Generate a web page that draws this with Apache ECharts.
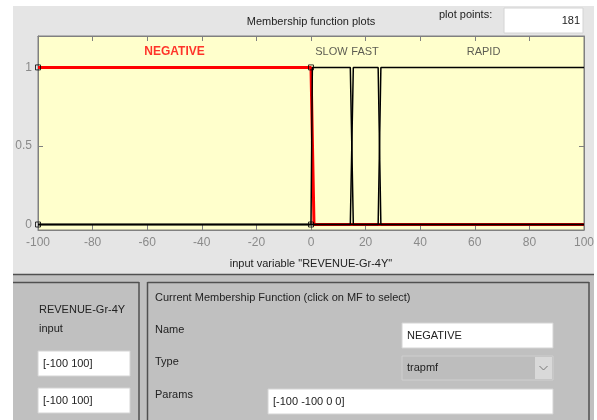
<!DOCTYPE html>
<html>
<head>
<meta charset="utf-8">
<script src="https://cdn.jsdelivr.net/npm/echarts@6/dist/echarts.min.js"></script>
<style>
  html, body { margin: 0; padding: 0; background: #fff; }
  #chart { width: 597px; height: 420px; }
</style>
</head>
<body>
<div id="chart"></div>
<script>
const mfNames = ["NEGATIVE", "SLOW", "FAST", "RAPID"];
const negativeMF = [[-100, 1], [0, 1], [1.1, 0], [100, 0]];
const slowMF = [[-100, 0], [0, 0], [0.5, 1], [14.4, 1], [15.5, 0], [100, 0]];
const fastMF = [[-100, 0], [14.4, 0], [15.5, 1], [24.6, 1], [25.6, 0], [100, 0]];
const rapidMF = [[-100, 0], [24.6, 0], [25.6, 1], [100, 1]];
// handles of the selected MF (trapmf [-100 -100 0 0])
const handlePoints = [[-100, 0], [-100, 1], [0, 1], [0, 0]];
// where the MF names sit
const labelX = [-50, 7.5, 19.8, 63.2];
const labelY = 1.1;
const yTickValues = [0, 0.5, 1];
const inputRange = "[-100 100]";
const displayRange = "[-100 100]";
const mfParams = "[-100 -100 0 0]";
const plotPoints = "181";

const FONT = "Liberation Sans, Arial, sans-serif";
const tickGrey = "#8a8a8a";
const axisGrey = "#808080";

function txt(text, x, y, opts) {
  opts = opts || {};
  return {
    type: "text",
    silent: true,
    z: opts.z || 5,
    style: {
      text: text,
      x: x,
      y: y,
      fill: opts.color || "#222",
      font: (opts.weight || "normal") + " " + (opts.size || 11) + "px " + FONT,
      align: opts.align || "left",
      textAlign: opts.align || "left",
      verticalAlign: "middle",
      textVerticalAlign: "middle"
    }
  };
}

function box(x, y, w, h, fill, stroke) {
  return {
    type: "rect",
    silent: true,
    z: 3,
    shape: { x: x, y: y, width: w, height: h },
    style: { fill: fill || "#fff", stroke: stroke || "#d4d4d4", lineWidth: 1 }
  };
}

function line(x1, y1, x2, y2, color, w) {
  return {
    type: "line",
    silent: true,
    z: 4,
    shape: { x1: x1, y1: y1, x2: x2, y2: y2 },
    style: { stroke: color || "#505050", lineWidth: w || 1.5 }
  };
}

function xAxisAt(pos, withLabels) {
  return {
    type: "value",
    min: -100,
    max: 100,
    interval: 20,
    position: pos,
    name: withLabels ? 'input variable "REVENUE-Gr-4Y"' : "",
    nameLocation: "middle",
    nameGap: 28,
    nameTextStyle: { color: "#222", fontSize: 11, fontFamily: FONT },
    axisLine: { onZero: false, lineStyle: { color: axisGrey } },
    axisTick: { inside: true, length: 5, lineStyle: { color: axisGrey } },
    axisLabel: { show: withLabels, color: tickGrey, fontSize: 12, fontFamily: FONT, margin: 7 },
    splitLine: { show: false }
  };
}

function yAxisAt(pos, withLabels) {
  return {
    type: "value",
    min: -0.035,
    max: 1.2,
    position: pos,
    axisLine: { show: true, onZero: false, lineStyle: { color: axisGrey } },
    axisTick: { show: true, inside: true, length: 5, customValues: yTickValues, lineStyle: { color: axisGrey } },
    axisLabel: { show: withLabels, color: tickGrey, fontSize: 12, fontFamily: FONT, margin: 6, customValues: yTickValues },
    splitLine: { show: false }
  };
}

const chart = echarts.init(document.getElementById("chart"), null, { renderer: "canvas" });

const mfSeries = [negativeMF, slowMF, fastMF, rapidMF].map(function (pts, i) {
  return {
    name: mfNames[i],
    type: "line",
    data: pts,
    symbol: "none",
    silent: true,
    z: i === 0 ? 2 : 3,
    lineStyle: {
      color: i === 0 ? "#ff0000" : "#000",
      width: i === 0 ? 3 : 1.5
    }
  };
});

const labelData = labelX.map(function (x, i) {
  const d = { value: [x, labelY, mfNames[i]] };
  // the selected MF name is drawn bold red
  if (i === 0) d.label = { color: "#ff0000", fontWeight: "bold", fontSize: 12 };
  return d;
});

const option = {
  backgroundColor: "#fff",
  animation: false,
  graphic: [
    { type: "rect", silent: true, z: -10, shape: { x: 13, y: 6, width: 581, height: 414 }, style: { fill: "#e5e5e5" } },
    { type: "rect", silent: true, z: -9, shape: { x: 13, y: 274, width: 581, height: 146 }, style: { fill: "#c0c0c0" } },
    line(13, 274.5, 594, 274.5, "#505050", 1.5),
    line(13, 282.5, 139, 282.5),
    line(139, 282, 139, 420),
    line(147.5, 282.5, 589, 282.5),
    line(147.5, 282, 147.5, 420),
    line(589, 282, 589, 420),
    txt("Membership function plots", 311, 22, { align: "center" }),
    txt("plot points:", 439, 15),
    box(504, 8, 79, 25),
    txt(plotPoints, 580, 21, { align: "right" }),
    txt("REVENUE-Gr-4Y", 39, 310),
    txt("input", 39, 329),
    box(38, 351, 92, 25),
    txt(inputRange, 43, 364),
    box(38, 388, 92, 25),
    txt(displayRange, 43, 401),
    txt("Current Membership Function (click on MF to select)", 155, 298),
    txt("Name", 155, 330),
    txt("Type", 155, 362),
    txt("Params", 155, 395),
    box(402, 323, 151, 25),
    txt(mfNames[0], 407, 336),
    box(402, 356, 151, 24, "#bdbdbd", "#cfcfcf"),
    { type: "rect", silent: true, z: 4, shape: { x: 535, y: 357, width: 17, height: 22 }, style: { fill: "#d9d9d9" } },
    { type: "polyline", silent: true, z: 5, shape: { points: [[539.5, 366], [543.5, 370], [547.5, 366]] }, style: { stroke: "#777", lineWidth: 1, fill: null } },
    txt("trapmf", 407, 368),
    box(268, 389, 285, 25),
    txt(mfParams, 273, 402)
  ],
  grid: {
    left: 38,
    top: 36,
    width: 546,
    height: 194,
    show: true,
    backgroundColor: "#ffffcc",
    borderColor: axisGrey,
    borderWidth: 1
  },
  xAxis: [xAxisAt("bottom", true), xAxisAt("top", false)],
  yAxis: [yAxisAt("left", true), yAxisAt("right", false)],
  series: mfSeries.concat([
    {
      type: "scatter",
      data: handlePoints,
      symbol: "rect",
      symbolSize: 5,
      silent: true,
      z: 5,
      itemStyle: { color: "rgba(0,0,0,0)", borderColor: "#000", borderWidth: 1 }
    },
    {
      type: "scatter",
      data: labelData,
      symbolSize: 0,
      silent: true,
      z: 6,
      label: {
        show: true,
        position: "inside",
        formatter: function (p) { return p.value[2]; },
        fontFamily: FONT,
        fontSize: 11,
        color: "#333"
      },
      labelLayout: { hideOverlap: false }
    }
  ])
};

chart.setOption(option);
</script>
</body>
</html>
